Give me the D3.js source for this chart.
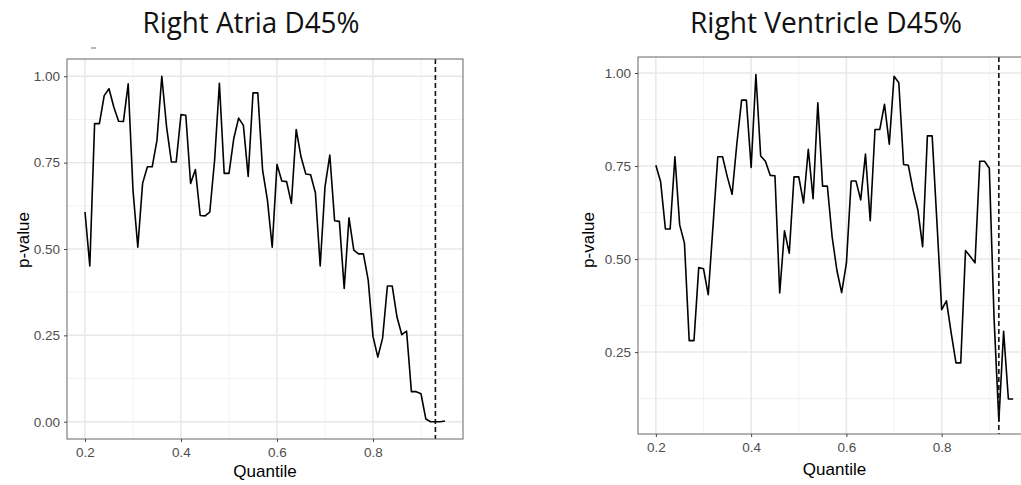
<!DOCTYPE html>
<html>
<head>
<meta charset="utf-8">
<script src="https://cdn.jsdelivr.net/npm/d3@7"></script>
<style>
  body { margin: 0; background: #fff; }
  svg { display: block; }
</style>
</head>
<body>
<script>
// quantile grid shared by both panels
const quantiles = [0.20,0.21,0.22,0.23,0.24,0.25,0.26,0.27,0.28,0.29,
  0.30,0.31,0.32,0.33,0.34,0.35,0.36,0.37,0.38,0.39,
  0.40,0.41,0.42,0.43,0.44,0.45,0.46,0.47,0.48,0.49,
  0.50,0.51,0.52,0.53,0.54,0.55,0.56,0.57,0.58,0.59,
  0.60,0.61,0.62,0.63,0.64,0.65,0.66,0.67,0.68,0.69,
  0.70,0.71,0.72,0.73,0.74,0.75,0.76,0.77,0.78,0.79,
  0.80,0.81,0.82,0.83,0.84,0.85,0.86,0.87,0.88,0.89,
  0.90,0.91,0.92,0.93,0.94,0.95];

const atriaP = [0.607,0.451,0.863,0.863,0.944,0.964,0.911,0.870,0.869,0.978,
  0.670,0.505,0.690,0.738,0.738,0.815,1.000,0.853,0.752,0.752,
  0.889,0.887,0.690,0.730,0.597,0.596,0.607,0.757,0.980,0.719,
  0.719,0.820,0.879,0.858,0.710,0.952,0.952,0.728,0.642,0.505,
  0.745,0.697,0.695,0.632,0.846,0.767,0.717,0.715,0.663,0.451,
  0.680,0.772,0.582,0.580,0.386,0.590,0.497,0.486,0.486,0.410,
  0.247,0.187,0.242,0.393,0.393,0.303,0.252,0.262,0.087,0.087,
  0.081,0.008,0.000,0.000,0.000,0.002];

const ventricleP = [0.752,0.708,0.581,0.581,0.775,0.592,0.543,0.281,0.281,0.477,
  0.474,0.404,0.590,0.775,0.775,0.721,0.674,0.810,0.927,0.927,
  0.746,0.996,0.777,0.763,0.725,0.724,0.409,0.576,0.516,0.721,
  0.721,0.651,0.795,0.662,0.920,0.696,0.696,0.560,0.470,0.410,
  0.489,0.710,0.710,0.659,0.782,0.603,0.848,0.848,0.916,0.809,
  0.991,0.974,0.754,0.752,0.685,0.632,0.533,0.831,0.831,0.600,
  0.364,0.388,0.301,0.221,0.221,0.523,0.507,0.490,0.763,0.763,
  0.744,0.340,0.066,0.306,0.124,0.124];

const xTicks = [0.2, 0.4, 0.6, 0.8];
const xMinor = [0.3, 0.5, 0.7, 0.9];
const atriaYTicks = [0.00, 0.25, 0.50, 0.75, 1.00];
const atriaYMinor = [0.125, 0.375, 0.625, 0.875];
const ventricleYTicks = [0.25, 0.50, 0.75, 1.00];
const ventricleYMinor = [0.125, 0.375, 0.625, 0.875];
const atriaCut = 0.93;
const ventricleCut = 0.92;

const svg = d3.select("body").append("svg")
  .attr("width", 1021)
  .attr("height", 485);

function drawPanel(p) {
  const x = d3.scaleLinear().domain([0.1625, 0.9875]).range([p.left, p.right]);
  const y = d3.scaleLinear().domain(p.yDomain).range([p.bottom, p.top]);
  const g = svg.append("g");

  // grid
  g.selectAll(".gxm").data(xMinor).join("line")
    .attr("x1", d => x(d)).attr("x2", d => x(d))
    .attr("y1", p.top).attr("y2", p.bottom)
    .attr("stroke", "#f2f2f2").attr("stroke-width", 1);
  g.selectAll(".gym").data(p.yMinor).join("line")
    .attr("x1", p.left).attr("x2", p.right)
    .attr("y1", d => y(d)).attr("y2", d => y(d))
    .attr("stroke", "#f2f2f2").attr("stroke-width", 1);
  g.selectAll(".gx").data(xTicks).join("line")
    .attr("x1", d => x(d)).attr("x2", d => x(d))
    .attr("y1", p.top).attr("y2", p.bottom)
    .attr("stroke", "#e8e8e8").attr("stroke-width", 1.5);
  g.selectAll(".gy").data(p.yTicks).join("line")
    .attr("x1", p.left).attr("x2", p.right)
    .attr("y1", d => y(d)).attr("y2", d => y(d))
    .attr("stroke", "#e8e8e8").attr("stroke-width", 1.5);

  // the p-value line
  const line = d3.line().x(d => x(d[0])).y(d => y(d[1]));
  g.append("path")
    .datum(d3.zip(quantiles, p.values))
    .attr("d", line)
    .attr("fill", "none")
    .attr("stroke", "#000")
    .attr("stroke-width", 1.6)
    .attr("stroke-linejoin", "round");

  // cut-off
  g.append("line")
    .attr("x1", x(p.cut)).attr("x2", x(p.cut))
    .attr("y1", p.top).attr("y2", p.bottom)
    .attr("stroke", "#111").attr("stroke-width", 1.6)
    .attr("stroke-dasharray", "5,3");

  // border
  g.append("rect")
    .attr("x", p.left).attr("y", p.top)
    .attr("width", p.right - p.left).attr("height", p.bottom - p.top)
    .attr("fill", "none").attr("stroke", "#666").attr("stroke-width", 1);

  // axes
  const xa = g.append("g").attr("transform", `translate(0,${p.bottom})`)
    .call(d3.axisBottom(x).tickValues(xTicks).tickSize(3).tickPadding(5).tickFormat(d3.format(".1f")));
  const ya = g.append("g").attr("transform", `translate(${p.left},0)`)
    .call(d3.axisLeft(y).tickValues(p.yTicks).tickSize(3).tickPadding(4).tickFormat(d3.format(".2f")));
  [xa, ya].forEach(a => {
    a.select(".domain").remove();
    a.selectAll(".tick line").attr("stroke", "#444");
    a.selectAll("text").attr("fill", "#4d4d4d")
      .style("font-family", "'Liberation Sans', Arial, sans-serif")
      .style("font-size", "13.5px");
  });

  svg.append("text")
    .attr("x", (p.left + p.right) / 2).attr("y", p.xLabelY)
    .attr("text-anchor", "middle")
    .style("font-family", "'Liberation Sans', Arial, sans-serif")
    .style("font-size", "17px")
    .text("Quantile");
  svg.append("text")
    .attr("transform", `translate(${p.yLabelX},240) rotate(-90)`)
    .attr("text-anchor", "middle")
    .style("font-family", "'Liberation Sans', Arial, sans-serif")
    .style("font-size", "17px")
    .text("p-value");

  svg.append("text")
    .attr("x", p.titleX).attr("y", 33)
    .attr("text-anchor", "middle")
    .attr("textLength", p.titleW)
    .attr("lengthAdjust", "spacingAndGlyphs")
    .style("font-family", "'Open Sans', sans-serif")
    .style("font-size", "29px")
    .attr("fill", "#111")
    .text(p.title);
}

drawPanel({
  title: "Right Atria D45%", titleX: 251, titleW: 217,
  left: 67, right: 463, top: 59, bottom: 439,
  yDomain: [-0.05, 1.05], yTicks: atriaYTicks, yMinor: atriaYMinor,
  values: atriaP, cut: atriaCut, xLabelY: 477, yLabelX: 29
});
drawPanel({
  title: "Right Ventricle D45%", titleX: 826, titleW: 272,
  left: 638, right: 1031, top: 57, bottom: 434,
  yDomain: [0.030, 1.043], yTicks: ventricleYTicks, yMinor: ventricleYMinor,
  values: ventricleP, cut: ventricleCut, xLabelY: 475, yLabelX: 594
});

// small leftover mark above the left panel
svg.append("line").attr("x1", 91).attr("x2", 96).attr("y1", 48).attr("y2", 48)
  .attr("stroke", "#888").attr("stroke-width", 1.2);
</script>
</body>
</html>
